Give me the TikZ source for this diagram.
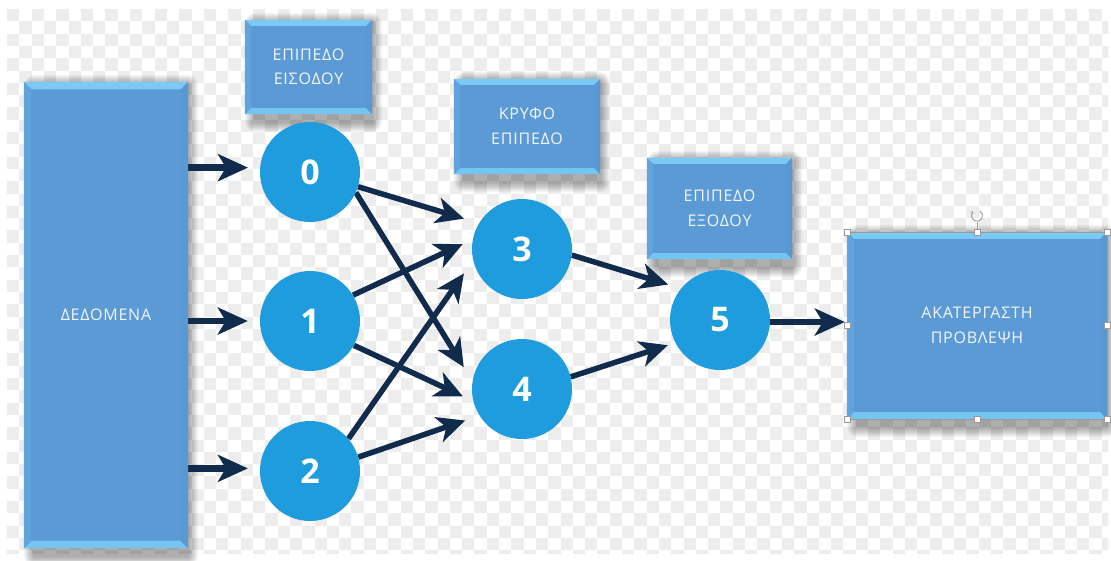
\documentclass[tikz,border=0pt]{standalone}
\usepackage{fontspec}
\setmainfont{Open Sans}
\newfontfamily\boxfont{Open Sans}[LetterSpace=5]
\usetikzlibrary{arrows.meta,calc}

\pgfdeclarelayer{checks}
\pgfdeclarelayer{shade}
\pgfdeclarelayer{wires}
\pgfsetlayers{checks,shade,wires,main}

\definecolor{face}{HTML}{5B9AD5}
\definecolor{bevtop}{HTML}{7ACAF4}
\definecolor{bevbot}{HTML}{74C5F2}
\definecolor{bevleft}{HTML}{60A3DD}
\definecolor{bevright}{HTML}{5899D4}
\definecolor{neuron}{HTML}{1F9CDD}
\definecolor{wire}{HTML}{102B4B}
\definecolor{checkgray}{HTML}{EDEDED}
\definecolor{selgray}{HTML}{9A9A9A}
\definecolor{paneltext}{HTML}{F2F6FB}

\tikzset{
  panel/.style={fill=face, inner sep=0pt, text=paneltext, align=center,
    font=\boxfont\fontsize{16}{24.5}\selectfont},
  neuronnode/.style={circle, fill=neuron, minimum size=100pt, inner sep=0pt,
    text=white, font=\bfseries\fontsize{34}{34}\selectfont},
  link/.style={draw=wire, line width=5.5pt,
    -{Stealth[length=28pt,width=26pt,inset=8pt]}},
  feed/.style={draw=wire, line width=6.5pt,
    -{Stealth[length=30pt,width=27pt,inset=8pt]}},
  handle/.style={fill=white, draw=selgray, line width=0.6pt},
}

% bevelled edges of a panel: #1 depth, #2 node name
\newcommand\bevelize[2][6pt]{%
  \fill[bevtop] (#2.north west) -- (#2.north east)
    -- ([xshift=-#1,yshift=-#1]#2.north east) -- ([xshift=#1,yshift=-#1]#2.north west) -- cycle;
  \fill[bevbot] (#2.south west) -- (#2.south east)
    -- ([xshift=-#1,yshift=#1]#2.south east) -- ([xshift=#1,yshift=#1]#2.south west) -- cycle;
  \fill[bevleft] (#2.north west) -- (#2.south west)
    -- ([xshift=#1,yshift=#1]#2.south west) -- ([xshift=#1,yshift=-#1]#2.north west) -- cycle;
  \fill[bevright] (#2.north east) -- (#2.south east)
    -- ([xshift=-#1,yshift=#1]#2.south east) -- ([xshift=-#1,yshift=-#1]#2.north east) -- cycle;
}

% soft drop shadow below and right of a panel
\newcommand\dropshade[1]{%
  \begin{pgfonlayer}{shade}
    \foreach \s in {1,...,10}{%
      \fill[black, opacity=0.035, rounded corners={(\s+1)*1pt}]
        ([xshift={(10-\s)*1pt}, yshift={(-3+\s)*1pt}]#1.north west)
        rectangle ([xshift={(0+\s)*1pt}, yshift={(-13-\s+5)*1pt}]#1.south east);
    }
  \end{pgfonlayer}}

\begin{document}
\begin{tikzpicture}[x=1pt,y=-1pt]
\useasboundingbox (0,0) rectangle (1111,560);

% transparent-canvas checkerboard
\begin{pgfonlayer}{checks}
  \fill[white] (0,0) rectangle (1111,560);
  \begin{scope}
    \clip (7,9) rectangle (1108,553);
    \foreach \i in {0,...,89}{%
      \foreach \j in {0,...,44}{%
        \pgfmathtruncatemacro\odd{mod(\i+\j,2)}
        \ifnum\odd=0
          \fill[checkgray] ({7+12.3*\i},{9+12.3*\j}) rectangle +(12.3,12.3);
        \fi
      }%
    }
  \end{scope}
\end{pgfonlayer}

% panels
\node[panel, minimum width=164pt, minimum height=466pt] (data)   at (106,315)   {ΔΕΔΟΜΕΝΑ};
\node[panel, minimum width=127pt, minimum height=94pt]  (inlay)  at (308.5,67)  {ΕΠΙΠΕΔΟ\\ΕΙΣΟΔΟΥ};
\node[panel, minimum width=146pt, minimum height=95pt]  (hidlay) at (527,126.5) {ΚΡΥΦΟ\\ΕΠΙΠΕΔΟ};
\node[panel, minimum width=145pt, minimum height=101pt] (outlay) at (719.5,208.5) {ΕΠΙΠΕΔΟ\\ΕΞΟΔΟΥ};
\node[panel, minimum width=260pt, minimum height=187pt] (pred)   at (977,325.5) {ΑΚΑΤΕΡΓΑΣΤΗ\\ΠΡΟΒΛΕΨΗ};

\bevelize[7.5pt]{data}
\bevelize{inlay}
\bevelize{hidlay}
\bevelize{outlay}
\bevelize[7pt]{pred}

\dropshade{data}
\dropshade{inlay}
\dropshade{hidlay}
\dropshade{outlay}
\dropshade{pred}

% neurons
\node[neuronnode] (c0) at (310,172) {0};
\node[neuronnode] (c1) at (310,321) {1};
\node[neuronnode] (c2) at (310,471) {2};
\node[neuronnode] (c3) at (522,249) {3};
\node[neuronnode] (c4) at (522,389) {4};
\node[neuronnode] (c5) at (720,320) {5};

% connections
\begin{pgfonlayer}{wires}
  \draw[feed, shorten >=12pt] (data.east |- c0.175) -- (c0.175);
  \draw[feed, shorten >=12pt] (data.east |- c1.west) -- (c1.west);
  \draw[feed, shorten >=12pt] (data.east |- c2.177) -- (c2.177);

  \draw[link, shorten >=15.6pt] (c0.-17) -- (c3.149.5);
  \draw[link, shorten >=16.5pt] (c0.-24) -- (c4.171);
  \draw[link, shorten >=11pt]   (c1.31)  -- (c3.169);
  \draw[link, shorten >=11.5pt] (c1.-29) -- (c4.-166);
  \draw[link, shorten >=16pt]   (c2.40)  -- (c3.-167.5);
  \draw[link, shorten >=15pt]   (c2.16)  -- (c4.-148.6);

  \draw[link, shorten >=13.4pt] (c3.-7)  -- (c5.141.6);
  \draw[link, shorten >=7.8pt]  (c4.14)  -- (c5.-153);

  \draw[feed, shorten >=2pt] ([yshift=-2pt]c5.east) -- ([yshift=-2pt]c5.east -| pred.west);
\end{pgfonlayer}

% selection frame with handles
\draw[selgray, line width=0.5pt] (pred.north west) rectangle (pred.south east);
\draw[selgray, line width=0.7pt] (pred.north) -- ++(0,-10) coordinate (rot);
\coordinate (rotc) at ([yshift=6pt]rot);
\draw[selgray, line width=0.9pt, -{Stealth[length=2.5pt,width=3.5pt]}]
  ([xshift=2.8pt,yshift=4.8pt]rotc) arc[start angle=60, end angle=-230, radius=5.5pt];
\foreach \a in {north west,north,north east,east,south east,south,south west,west}{%
  \draw[handle] ([xshift=-3pt,yshift=-3pt]pred.\a) rectangle ([xshift=3pt,yshift=3pt]pred.\a);
}
\end{tikzpicture}
\end{document}
